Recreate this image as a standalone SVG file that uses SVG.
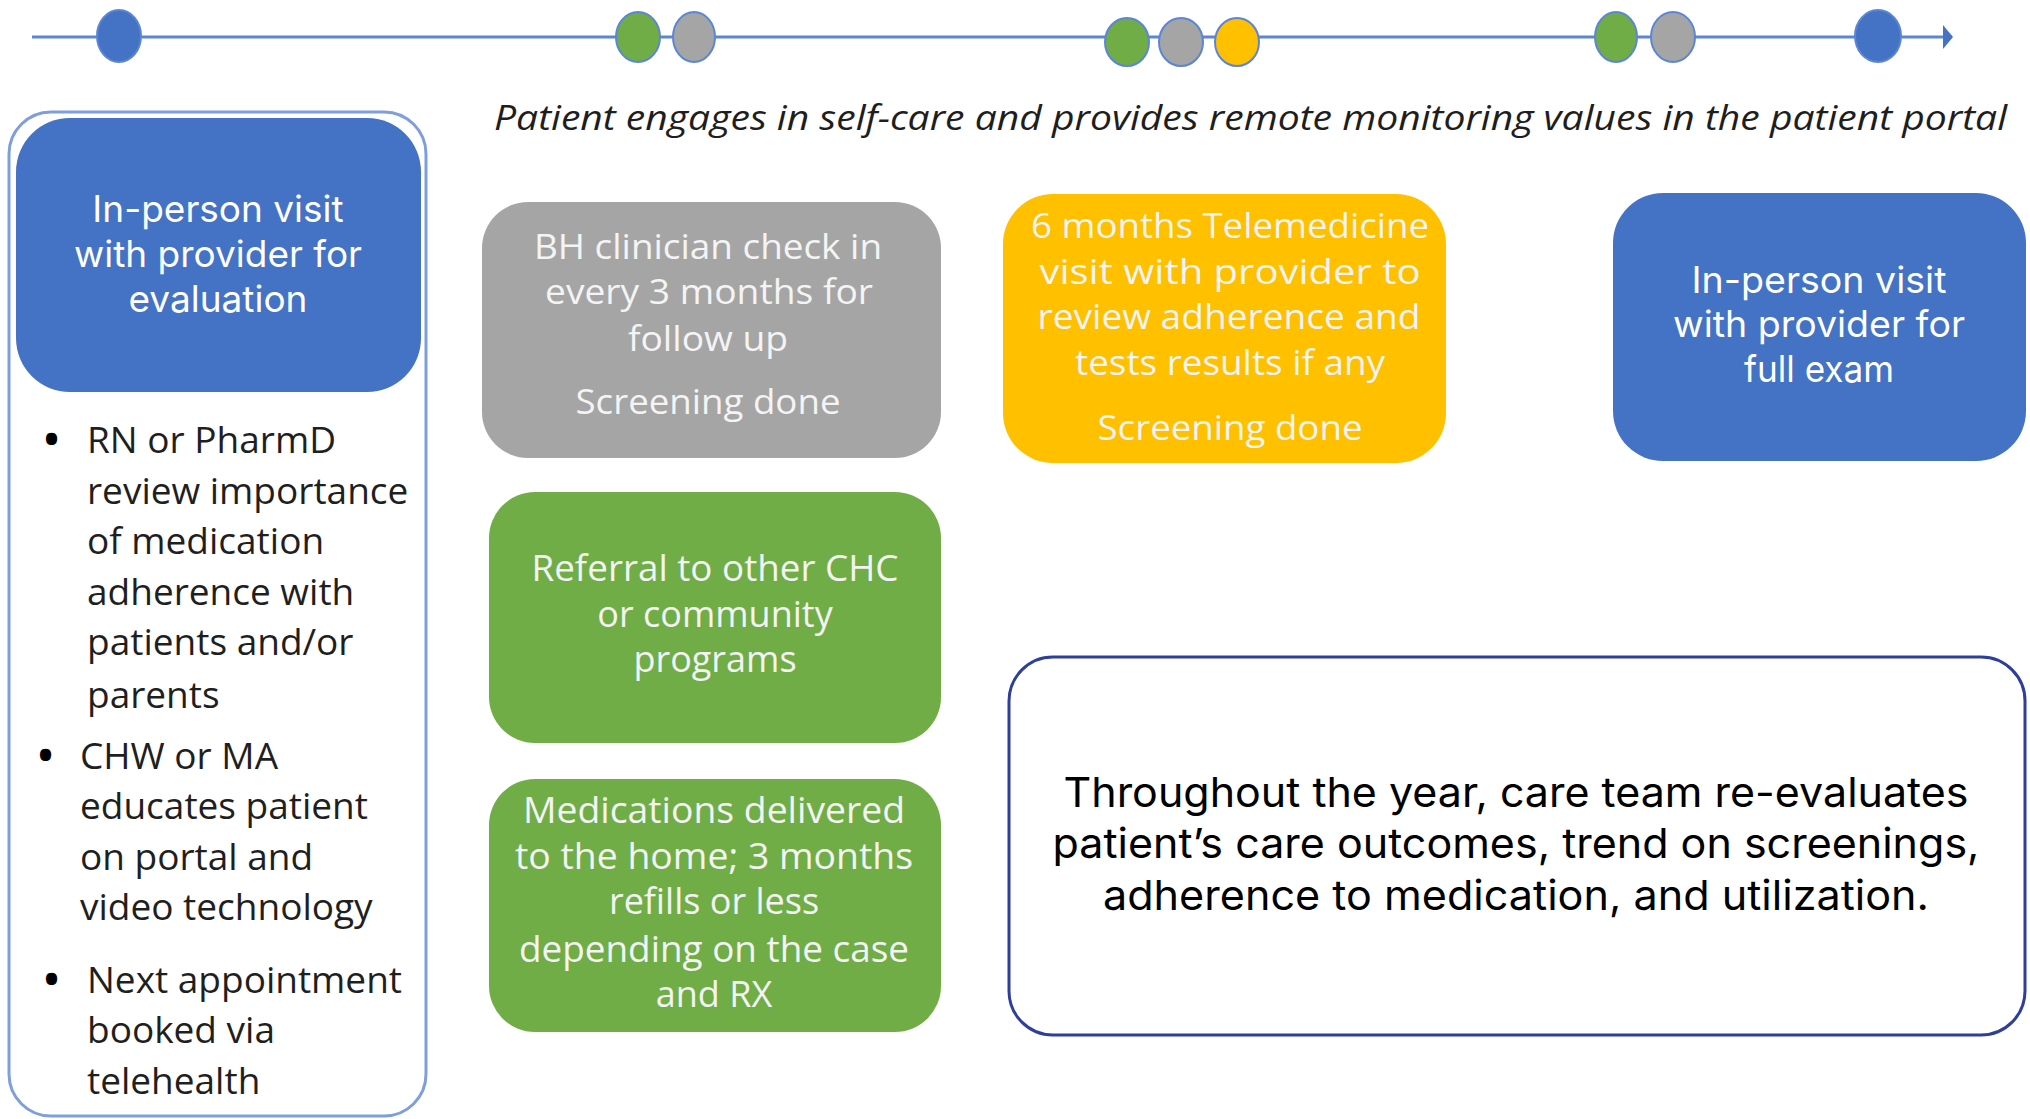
<svg xmlns="http://www.w3.org/2000/svg" width="2030" height="1119" viewBox="0 0 2030 1119">
<style>
.dot{stroke:#5B86D6;stroke-width:2}
.blue{fill:#4472C4}
.green{fill:#70AD47}
.gray{fill:#A5A5A5}
.yellow{fill:#FFC000}
.inter{font-family:Inter,"Noto Sans",sans-serif;fill:#FFFFFF;text-anchor:middle}
.cal{font-family:"Open Sans","Liberation Sans",sans-serif;fill:#F4F4F4;text-anchor:middle}
.bul{font-family:"Open Sans","Liberation Sans",sans-serif;fill:#1F1F1F;font-size:37px}
.bdot{font-family:"Open Sans","Liberation Sans",sans-serif;fill:#000000;font-size:40px;font-weight:bold}
.note{font-family:Inter,"Noto Sans",sans-serif;fill:#000000;text-anchor:middle;font-size:41px}
</style>
<defs>
<marker id="arr" viewBox="0 0 10 24" refX="9" refY="12" markerWidth="10" markerHeight="24" markerUnits="userSpaceOnUse" orient="auto" preserveAspectRatio="none">
<path d="M0,0 L10,12 L0,24 z" fill="#4472C4"/>
</marker>
</defs>
<rect width="2030" height="1119" fill="#FFFFFF"/>
<g id="connectors">
<line x1="32" y1="37" x2="1952" y2="37" stroke="#5B86D6" stroke-width="3" marker-end="url(#arr)"/>
</g>
<g id="timeline-dots">
<ellipse id="dot1" class="dot blue" cx="119" cy="36" rx="22" ry="26"/>
<ellipse id="dot2" class="dot green" cx="638" cy="37" rx="22" ry="25"/>
<ellipse id="dot3" class="dot gray" cx="694" cy="37" rx="21" ry="25"/>
<ellipse id="dot4" class="dot green" cx="1127" cy="42" rx="22" ry="24"/>
<ellipse id="dot5" class="dot gray" cx="1181" cy="42" rx="22" ry="24"/>
<ellipse id="dot6" class="dot yellow" cx="1237" cy="42" rx="22" ry="24"/>
<ellipse id="dot7" class="dot green" cx="1616" cy="37" rx="21" ry="25"/>
<ellipse id="dot8" class="dot gray" cx="1673" cy="37" rx="22" ry="25"/>
<ellipse id="dot9" class="dot blue" cx="1878" cy="36" rx="23" ry="26"/>
</g>
<g id="self-care-label">
<text x="494" y="130" font-family="'Open Sans','Liberation Sans',sans-serif" font-style="italic" font-size="35" fill="#1E1E1E" textLength="1513" lengthAdjust="spacingAndGlyphs">Patient engages in self-care and provides remote monitoring values in the patient portal</text>
</g>
<g id="initial-visit-panel">
<rect x="9" y="112" width="417" height="1004" rx="42" fill="#FFFFFF" stroke="#7F9FDA" stroke-width="3"/>
<g id="initial-visit">
<rect x="16" y="118" width="405" height="274" rx="54" class="blue"/>
<text class="inter" font-size="37" x="218" y="222">In-person visit</text>
<text class="inter" font-size="37" x="218" y="267">with provider for</text>
<text class="inter" font-size="37" x="218" y="312">evaluation</text>
</g>
<g id="initial-visit-tasks">
<text class="bdot" x="44" y="453">•</text>
<text class="bul" x="87" y="453">RN or PharmD</text>
<text class="bul" x="87" y="504">review importance</text>
<text class="bul" x="87" y="554">of medication</text>
<text class="bul" x="87" y="605">adherence with</text>
<text class="bul" x="87" y="655">patients and/or</text>
<text class="bul" x="87" y="708">parents</text>
<text class="bdot" x="38" y="769">•</text>
<text class="bul" x="80" y="769">CHW or MA</text>
<text class="bul" x="80" y="819">educates patient</text>
<text class="bul" x="80" y="870">on portal and</text>
<text class="bul" x="80" y="920">video technology</text>
<text class="bdot" x="44" y="993">•</text>
<text class="bul" x="87" y="993">Next appointment</text>
<text class="bul" x="87" y="1043">booked via</text>
<text class="bul" x="87" y="1094">telehealth</text>
</g>
</g>
<g id="bh-checkin">
<rect x="482" y="202" width="459" height="256" rx="46" class="gray"/>
<text class="cal" font-size="34" x="708" y="259" textLength="348" lengthAdjust="spacingAndGlyphs">BH clinician check in</text>
<text class="cal" font-size="34" x="709" y="304" textLength="328" lengthAdjust="spacingAndGlyphs">every 3 months for</text>
<text class="cal" font-size="34" x="708" y="351" textLength="160" lengthAdjust="spacingAndGlyphs">follow up</text>
<text class="cal" font-size="34" x="708" y="414" textLength="265" lengthAdjust="spacingAndGlyphs">Screening done</text>
</g>
<g id="telemedicine-visit">
<rect x="1003" y="194" width="443" height="269" rx="50" class="yellow"/>
<text class="cal" font-size="34" x="1230" y="238" textLength="398" lengthAdjust="spacingAndGlyphs">6 months Telemedicine</text>
<text class="cal" font-size="34" x="1230" y="284" textLength="381" lengthAdjust="spacingAndGlyphs">visit with provider to</text>
<text class="cal" font-size="34" x="1229" y="329" textLength="383" lengthAdjust="spacingAndGlyphs">review adherence and</text>
<text class="cal" font-size="34" x="1230" y="375" textLength="310" lengthAdjust="spacingAndGlyphs">tests results if any</text>
<text class="cal" font-size="34" x="1230" y="440" textLength="265" lengthAdjust="spacingAndGlyphs">Screening done</text>
</g>
<g id="full-exam-visit">
<rect x="1613" y="193" width="413" height="268" rx="50" class="blue"/>
<text class="inter" font-size="37" x="1819" y="293" textLength="255" lengthAdjust="spacingAndGlyphs">In-person visit</text>
<text class="inter" font-size="37" x="1819" y="337" textLength="292" lengthAdjust="spacingAndGlyphs">with provider for</text>
<text class="inter" font-size="37" x="1819" y="382" textLength="150" lengthAdjust="spacingAndGlyphs">full exam</text>
</g>
<g id="referral">
<rect x="489" y="492" width="452" height="251" rx="46" class="green"/>
<text class="cal" font-size="36" x="715" y="581" textLength="367" lengthAdjust="spacingAndGlyphs">Referral to other CHC</text>
<text class="cal" font-size="36" x="715" y="627">or community</text>
<text class="cal" font-size="36" x="715" y="672">programs</text>
</g>
<g id="medications">
<rect x="489" y="779" width="452" height="253" rx="46" class="green"/>
<text class="cal" font-size="36" x="714" y="823" textLength="382" lengthAdjust="spacingAndGlyphs">Medications delivered</text>
<text class="cal" font-size="36" x="714" y="869" textLength="398" lengthAdjust="spacingAndGlyphs">to the home; 3 months</text>
<text class="cal" font-size="36" x="714" y="914">refills or less</text>
<text class="cal" font-size="36" x="714" y="962" textLength="390" lengthAdjust="spacingAndGlyphs">depending on the case</text>
<text class="cal" font-size="36" x="714" y="1007">and RX</text>
</g>
<g id="reevaluation">
<rect x="1009" y="657" width="1016" height="378" rx="44" fill="#FFFFFF" stroke="#2E3F99" stroke-width="3"/>
<text class="note" x="1516" y="807" textLength="905" lengthAdjust="spacingAndGlyphs">Throughout the year, care team re-evaluates</text>
<text class="note" x="1516" y="858" textLength="927" lengthAdjust="spacingAndGlyphs">patient’s care outcomes, trend on screenings,</text>
<text class="note" x="1516" y="910" textLength="826" lengthAdjust="spacingAndGlyphs">adherence to medication, and utilization.</text>
</g>
</svg>
